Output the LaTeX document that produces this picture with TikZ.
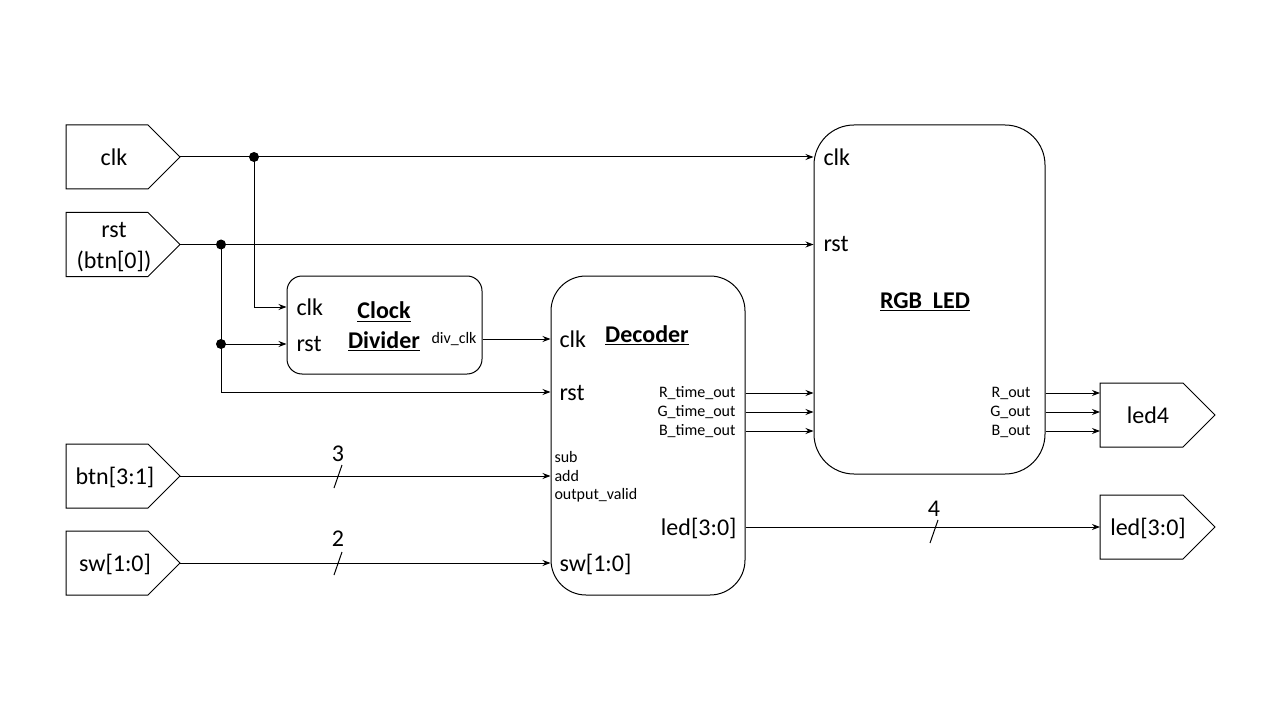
\documentclass[tikz,border=0pt]{standalone}
\usepackage{fontspec}
\setmainfont{Carlito}
\usetikzlibrary{arrows.meta}
\newcommand\myinport[2]{%
  \draw (66,#2-32) -- (148,#2-32) -- (180,#2) -- (148,#2+32) -- (66,#2+32) -- cycle;
  \coordinate (#1) at (180,#2);}
\newcommand\myoutport[2]{%
  \draw (1100,#2-32) -- (1183,#2-32) -- (1215,#2) -- (1183,#2+32) -- (1100,#2+32) -- cycle;
  \coordinate (#1) at (1100,#2);}
\begin{document}
\begin{tikzpicture}[x=0.75pt,y=-0.75pt,line width=0.75pt,
  big/.style={font=\fontsize{18}{23}\selectfont,inner sep=0pt},
  small/.style={font=\fontsize{12}{14.25}\selectfont,inner sep=0pt},
  title/.style={font=\fontsize{18}{21}\selectfont\bfseries,inner sep=0pt,align=center},
  wire/.style={-{Stealth[length=6pt,width=4.5pt]}},
  blk/.style={draw,rectangle,inner sep=0pt},
  dot/.style={circle,fill,inner sep=0pt,minimum size=7.5pt}]
\useasboundingbox (0,0) rectangle (1280,720);

% input ports
\myinport{clkT}{157}
\node[big] (clkL) at (114,157) {clk};
\myinport{rstT}{244.5}
\node[big,align=center] (rstL) at (114,247) {rst\\(btn[0])};
\myinport{btnT}{476}
\node[big] (btnL) at (115,477) {btn[3:1]};
\myinport{swT}{563}
\node[big] (swL) at (115,564) {sw[1:0]};

% output ports
\myoutport{led4T}{415}
\node[big] (led4L) at (1148,415) {led4};
\myoutport{ledT}{527}
\node[big] (ledL) at (1148,528) {led[3:0]};

% blocks
\node[blk,rounded corners=11.25pt,minimum width=146.25pt,minimum height=73.5pt] (cd) at (384.5,325) {};
\node[blk,rounded corners=26.25pt,minimum width=145.5pt,minimum height=239.25pt] (dec) at (648,435.5) {};
\node[blk,rounded corners=30pt,minimum width=173.25pt,minimum height=261.75pt] (rgb) at (929.5,299.5) {};

% clock divider texts
\node[big,anchor=west] (cdclk) at (296,307) {clk};
\node[big,anchor=west] (cdrst) at (296,344) {rst};
\node[title] (cdt1) at (384,312) {\underline{Clock}};
\node[title] (cdt2) at (384,341) {\underline{Divider}};
\node[small,anchor=east] (cddiv) at (477,339) {div\_clk};

% decoder texts
\node[big,anchor=west] (dclk) at (559,339) {clk};
\node[title] (dtitle) at (647,335) {\underline{Decoder}};
\node[big,anchor=west] (drst) at (559,393) {rst};
\node[small,anchor=east] (dR) at (736,393) {R\_time\_out};
\node[small,anchor=east] (dG) at (736,412) {G\_time\_out};
\node[small,anchor=east] (dB) at (736,431) {B\_time\_out};
\node[small,anchor=west] (dsub) at (554,457) {sub};
\node[small,anchor=west] (dadd) at (554,476) {add};
\node[small,anchor=west] (dov) at (554,495) {output\_valid};
\node[big,anchor=east] (dled) at (737,528) {led[3:0]};
\node[big,anchor=west] (dsw) at (559,564) {sw[1:0]};

% rgb texts
\node[big,anchor=west] (rclk) at (823,157) {clk};
\node[big,anchor=west] (rrst) at (823,244) {rst};
\node[title] (rtitle) at (925,302) {\underline{RGB\ \ LED}};
\node[small,anchor=east] (rR) at (1031,393) {R\_out};
\node[small,anchor=east] (rG) at (1031,412) {G\_out};
\node[small,anchor=east] (rB) at (1031,431) {B\_out};

% junctions
\node[dot] (j1) at (254,157) {};
\node[dot] (j2) at (221,244.5) {};
\node[dot] (j3) at (221,344) {};
\coordinate (j4) at (221,392);

% wires
\draw[wire] (clkT) -- (clkT -| rgb.west);
\draw[wire] (rstT) -- (rstT -| rgb.west);
\draw[wire] (j1.center) |- (cd.west |- 0,307);
\draw (j2.center) -- (j4);
\draw[wire] (j3.center) -- (cd.west |- j3);
\draw[wire] (j4) -- (dec.west |- j4);
\draw[wire] (cd.east |- 0,339) -- (dec.west |- 0,339);
\foreach \yy in {393,412,431}{
  \draw[wire] (dec.east |- 0,\yy) -- (rgb.west |- 0,\yy);
  \draw[wire] (rgb.east |- 0,\yy) -- (led4T |- 0,\yy);
}
\draw[wire] (btnT) -- (dec.west |- btnT);
\draw[wire] (swT) -- (dec.west |- swT);
\draw[wire] (dec.east |- ledT) -- (ledT);

% bus slashes
\draw (334,488) -- (342,465);
\node[big] (n3) at (338,454) {3};
\draw (334,575) -- (342,552);
\node[big] (n2) at (338,539) {2};
\draw (930,543) -- (938,520);
\node[big] (n4) at (934,509) {4};
\end{tikzpicture}
\end{document}
